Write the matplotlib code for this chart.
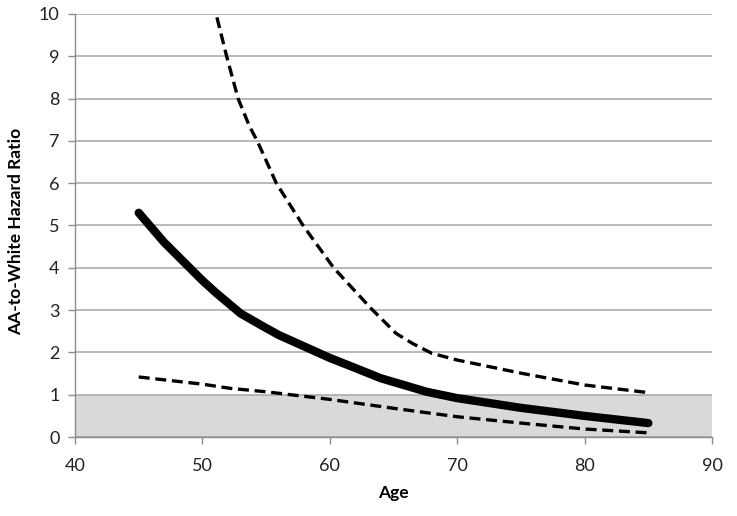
import matplotlib
matplotlib.use("Agg")
import matplotlib.pyplot as plt

# Hazard ratio estimate and confidence bounds
age_est = [45, 47, 49.3, 50, 51.1, 53, 54.8, 56, 60, 62.1, 64, 67.6, 70, 75, 80, 85]
hr_est = [5.3, 4.6, 3.91, 3.7, 3.4, 2.92, 2.61, 2.41, 1.87, 1.62, 1.39, 1.07, 0.92,
          0.69, 0.5, 0.33]

age_upper = [50.8, 51.07, 51.9, 52.8, 53.7, 54.3, 55.8, 57.9, 60.3, 63.2, 65.2, 66.5,
             68, 70, 75, 80, 85]
hr_upper = [10.3, 10.0, 9.0, 8.0, 7.34, 7.0, 6.0, 5.0, 4.0, 3.05, 2.45, 2.21,
            1.98, 1.82, 1.51, 1.23, 1.05]

age_lower = [45, 50, 52.2, 55, 60, 65, 70, 75, 80, 85]
hr_lower = [1.42, 1.25, 1.15, 1.07, 0.89, 0.68, 0.48, 0.33, 0.19, 0.1]

x_ticks = [40, 50, 60, 70, 80, 90]
y_ticks = list(range(0, 11))

plt.rcParams['font.family'] = ['Lato', 'DejaVu Sans']

fig = plt.figure(figsize=(7.37, 5.16), dpi=100)
ax = fig.add_axes([0.1018, 0.153, 0.8643, 0.820])

# shaded band below HR = 1
ax.axhspan(0, 1, color='#d9d9d9', zorder=0, lw=0)

ax.plot(age_est, hr_est, color='black', lw=6, solid_capstyle='round',
        solid_joinstyle='round', zorder=3)
ax.plot(age_upper, hr_upper, color='black', lw=2.4, dashes=(3.3, 1.7), zorder=3)
ax.plot(age_lower, hr_lower, color='black', lw=2.4, dashes=(3.3, 1.7), zorder=3)

ax.set_xlim(40, 90)
ax.set_ylim(0, 10)
ax.set_xticks(x_ticks)
ax.set_yticks(y_ticks)
ax.yaxis.grid(True, color='#a6a6a6', lw=1.1, zorder=1)
ax.set_axisbelow(True)

for side in ['top', 'right']:
    ax.spines[side].set_visible(False)
for side in ['left', 'bottom']:
    ax.spines[side].set_color('#8c8c8c')
    ax.spines[side].set_linewidth(1.0)

ax.tick_params(axis='both', direction='out', length=5, width=1.0, color='#8c8c8c',
               labelsize=13, labelcolor='#222222')
ax.tick_params(axis='x', pad=10)
ax.tick_params(axis='y', pad=6)

ax.set_xlabel('Age', fontsize=12.5, fontweight='bold', labelpad=8)
ax.set_ylabel('AA-to-White Hazard Ratio', fontsize=12.5, fontweight='bold')
ax.yaxis.set_label_coords(-0.080, 0.485)

fig.savefig('out.png', dpi=100)
